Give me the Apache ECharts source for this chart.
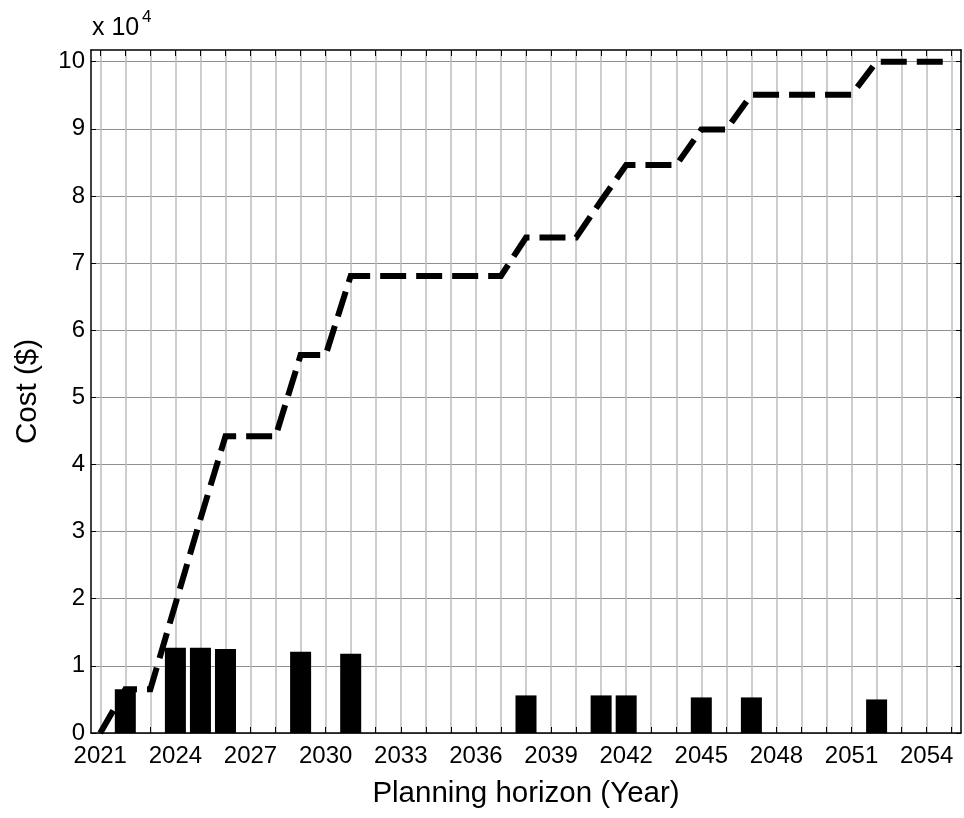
<!DOCTYPE html>
<html><head><meta charset="utf-8">
<script src="https://cdn.jsdelivr.net/npm/echarts@6/dist/echarts.min.js"></script>
<style>html,body{margin:0;padding:0;background:#fff}#c{width:964px;height:818px}</style>
</head><body><div id="c"></div>
<script>
// ---- data ----
const years = [2021,2022,2023,2024,2025,2026,2027,2028,2029,2030,2031,2032,2033,2034,2035,2036,2037,2038,2039,2040,2041,2042,2043,2044,2045,2046,2047,2048,2049,2050,2051,2052,2053,2054,2055];
const cumulativeCost = [0,6500,6500,19200,31900,44200,44200,44200,56300,56300,68100,68100,68100,68100,68100,68100,68100,73800,73800,73800,79300,84600,84600,84600,89900,89900,95100,95100,95100,95100,95100,100000,100000,100000,100000];
const barYears = [2022,2024,2025,2026,2029,2031,2038,2041,2042,2045,2047,2052];
const barCost = [6500,12700,12700,12500,12100,11800,5600,5600,5600,5300,5300,5000];
const xLabelYears = [2021,2024,2027,2030,2033,2036,2039,2042,2045,2048,2051,2054];
const yTickValues = [0,10000,20000,30000,40000,50000,60000,70000,80000,90000,100000];
const xTitle = 'Planning horizon (Year)';
const yTitle = 'Cost ($)';

const FONT = '"Liberation Sans", Arial, sans-serif';
const xMin = 2020.63, xMax = 2055.37, yMin = 0, yMax = 101750;

const chart = echarts.init(document.getElementById('c'), null, {renderer: 'canvas'});
chart.setOption({
  animation: false,
  backgroundColor: '#fff',
  grid: {left: 91, right: 3, top: 50, bottom: 85, containLabel: false},
  graphic: [
    {type: 'text', left: 92, top: 16, style: {text: 'x 10', font: '25px ' + FONT, fill: '#000'}},
    {type: 'text', left: 142, top: 9, style: {text: '4', font: '17px ' + FONT, fill: '#000'}}
  ],
  xAxis: [
    {
      type: 'value', min: xMin, max: xMax, position: 'bottom',
      name: xTitle, nameLocation: 'middle', nameGap: 46,
      nameTextStyle: {fontFamily: FONT, fontSize: 29.5, color: '#000'},
      axisLine: {show: true, onZero: false, lineStyle: {color: '#000', width: 1.5}},
      axisTick: {show: true, inside: true, length: 6, customValues: years, lineStyle: {color: '#000', width: 1}},
      axisLabel: {customValues: xLabelYears, fontFamily: FONT, fontSize: 24, color: '#000', margin: 11, formatter: v => String(Math.round(v))},
      splitLine: {show: true, lineStyle: {color: '#bdbdbd', width: 1.5}}
    },
    {
      type: 'value', min: xMin, max: xMax, position: 'top',
      axisLine: {show: true, onZero: false, lineStyle: {color: '#000', width: 1.5}},
      axisTick: {show: true, inside: true, length: 6, customValues: years, lineStyle: {color: '#000', width: 1}},
      axisLabel: {show: false},
      splitLine: {show: false}
    }
  ],
  yAxis: [
    {
      type: 'value', min: yMin, max: yMax, position: 'left',
      name: yTitle, nameLocation: 'middle', nameGap: 48, nameRotate: 90,
      nameTextStyle: {fontFamily: FONT, fontSize: 29.5, color: '#000'},
      axisLine: {show: true, onZero: false, lineStyle: {color: '#000', width: 1.5}},
      axisTick: {show: true, inside: true, length: 5, customValues: yTickValues, lineStyle: {color: '#000', width: 1}},
      axisLabel: {customValues: yTickValues, fontFamily: FONT, fontSize: 24, color: '#000', margin: 6, formatter: v => String(Math.round(v / 10000))},
      splitLine: {show: true, lineStyle: {color: '#8f8f8f', width: 1}}
    },
    {
      type: 'value', min: yMin, max: yMax, position: 'right',
      axisLine: {show: true, onZero: false, lineStyle: {color: '#000', width: 1.5}},
      axisTick: {show: true, inside: true, length: 5, customValues: yTickValues, lineStyle: {color: '#000', width: 1}},
      axisLabel: {show: false},
      splitLine: {show: false}
    }
  ],
  series: [
    {
      type: 'bar', xAxisIndex: 0, yAxisIndex: 0, barWidth: 21,
      data: barYears.map((y, i) => [y, barCost[i]]),
      itemStyle: {color: '#000'}, z: 2
    },
    {
      type: 'line', xAxisIndex: 0, yAxisIndex: 0,
      data: years.map((y, i) => [y, cumulativeCost[i]]),
      showSymbol: false, symbol: 'none',
      lineStyle: {color: '#000', width: 6, type: [26, 10], cap: 'butt', join: 'miter'},
      z: 3
    }
  ]
});
</script></body></html>
